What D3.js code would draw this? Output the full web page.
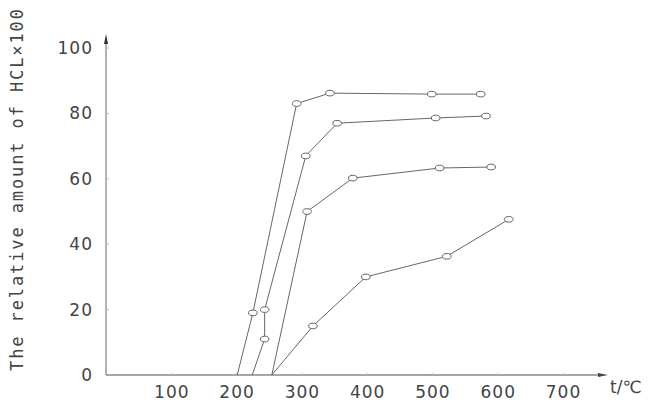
<!DOCTYPE html>
<html><head><meta charset="utf-8">
<script src="https://cdn.jsdelivr.net/npm/d3@7"></script>
<style>body{margin:0;background:#fff}svg{display:block}</style>
</head><body>
<svg id="c" width="650" height="407"></svg>
<script>
const xTicks = [100,200,300,400,500,600,700];
const yTicks = [0,20,40,60,80,100];
const series1 = [[201,0],[225,19],[292,83],[343,86.2],[499,85.9],[574,85.9]];
const series2 = [[224,0],[243,11],[243,20],[306,67],[354,77],[505,78.6],[582,79.2]];
const series3 = [[254,0],[308,50],[378,60.2],[511,63.3],[590,63.6]];
const series4 = [[254,0],[317,15],[398,30],[522,36.3],[617,47.6]];
const markers1 = [[225,19],[292,83],[343,86.2],[499,85.9],[574,85.9]];
const markers2 = [[243,11],[243,20],[306,67],[354,77],[505,78.6],[582,79.2]];
const markers3 = [[308,50],[378,60.2],[511,63.3],[590,63.6]];
const markers4 = [[317,15],[398,30],[522,36.3],[617,47.6]];
const yTitle = "The relative amount of HCL×100";
const xTitle = "t/℃";

const svg = d3.select("#c");
const x = d3.scaleLinear().domain([0,700]).range([106,563]);
const y = d3.scaleLinear().domain([0,100]).range([375,48]);
const axisColor = "#8a8a8a";
const font = "'DejaVu Sans', sans-serif";

svg.append("line").attr("x1",x(0)).attr("x2",603).attr("y1",y(0)).attr("y2",y(0))
  .attr("stroke",axisColor).attr("stroke-width",1.3);
svg.append("path").attr("d",`M608,${y(0)} L598,${y(0)-2} L598,${y(0)+2} Z`).attr("fill","#444");
svg.append("line").attr("x1",x(0)).attr("x2",x(0)).attr("y1",y(0)).attr("y2",40)
  .attr("stroke",axisColor).attr("stroke-width",1.3);
svg.append("path").attr("d",`M${x(0)},34 L${x(0)-2},44 L${x(0)+2},44 Z`).attr("fill","#333");

const gx = svg.append("g").attr("transform",`translate(0,${y(0)})`)
  .call(d3.axisBottom(x).tickValues(xTicks).tickSize(0).tickPadding(11));
gx.select(".domain").remove();
gx.selectAll("text").attr("font-family",font).attr("font-size",17).attr("fill","#444").attr("letter-spacing","1px");
xTicks.forEach(t=>svg.append("line").attr("x1",x(t)).attr("x2",x(t)).attr("y1",y(0)).attr("y2",y(0)-2).attr("stroke","#bbb"));

const gy = svg.append("g").attr("transform",`translate(${x(0)},0)`)
  .call(d3.axisLeft(y).tickValues(yTicks).tickSize(0).tickPadding(13));
gy.select(".domain").remove();
gy.selectAll("text").attr("font-family",font).attr("font-size",17).attr("fill","#444").attr("letter-spacing","1px");
yTicks.slice(1).forEach(t=>svg.append("line").attr("x1",x(0)).attr("x2",x(0)+3).attr("y1",y(t)).attr("y2",y(t)).attr("stroke","#bbb"));

svg.append("text").attr("x",610).attr("y",y(0)+18).attr("font-family",font).attr("font-size",17)
  .attr("fill","#444").text(xTitle);

svg.append("text").attr("transform","translate(23,190) rotate(-90)").attr("text-anchor","middle")
  .attr("font-family","'DejaVu Sans Mono', monospace").attr("font-size",17).attr("fill","#444")
  .attr("textLength",362).attr("lengthAdjust","spacing").text(yTitle);

const line = d3.line().x(d=>x(d[0])).y(d=>y(d[1]));
[series1,series2,series3,series4].forEach(s=>{
  svg.append("path").attr("d",line(s)).attr("fill","none").attr("stroke","#666").attr("stroke-width",1);
});
[markers1,markers2,markers3,markers4].forEach(m=>{
  svg.append("g").selectAll("ellipse").data(m).join("ellipse")
    .attr("cx",d=>x(d[0])).attr("cy",d=>y(d[1])).attr("rx",4.3).attr("ry",2.8)
    .attr("fill","#fff").attr("stroke","#666").attr("stroke-width",1);
});
</script>
</body></html>
